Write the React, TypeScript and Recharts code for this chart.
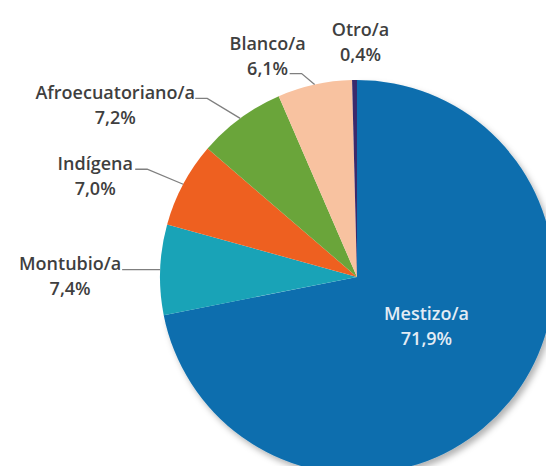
import React from 'react';
import { PieChart, Pie, Cell } from 'recharts';

// Autoidentificación étnica (%)
const categories = ['Mestizo/a', 'Montubio/a', 'Indígena', 'Afroecuatoriano/a', 'Blanco/a', 'Otro/a'];
const shares = [71.9, 7.4, 7.0, 7.2, 6.1, 0.4];
const colors = ['#0b6eae', '#19a3b7', '#ee6020', '#6aa53a', '#f8c2a0', '#3a2a6c'];

// label placement, relative to the point on the pie at the slice's mid angle
// r: fraction of the outer radius, dx/dy: text block offset, line: leader end offset
const labelLayout = [
  { r: 0.45, dx: 1, dy: -8, line: null, light: true },
  { r: 1, dx: -90, dy: 6, line: [-38, 0] },
  { r: 1, dx: -88, dy: -9, line: [-48, -15] },
  { r: 1, dx: -125, dy: -14, line: [-45, -20] },
  { r: 1, dx: -47, dy: -29, line: [-25, -11] },
  { r: 1, dx: 6, dy: -39, line: null },
];

const data = categories.map((name, i) => ({ name, value: shares[i] }));

const RADIAN = Math.PI / 180;

const renderLabel = (props: any) => {
  const { cx, cy, midAngle, outerRadius, index, value, name } = props;
  const lay = labelLayout[index];
  const r = outerRadius * lay.r;
  const ex = cx + r * Math.cos(-midAngle * RADIAN);
  const ey = cy + r * Math.sin(-midAngle * RADIAN);
  const tx = ex + lay.dx;
  const ty = ey + lay.dy;
  const pct = value.toFixed(1).replace('.', ',') + '%';
  const fill = lay.light ? '#e3ecf5' : '#3f3f3f';
  let leader = null;
  if (lay.line) {
    const px = ex + lay.line[0];
    const py = ey + lay.line[1];
    const pts = `${ex},${ey} ${Math.min(px + 12, ex)},${py} ${px},${py}`;
    leader = <polyline points={pts} fill="none" stroke="#7f7f7f" strokeWidth={1.3} />;
  }
  return (
    <g key={`lbl-${index}`}>
      {leader}
      <text x={tx} y={ty - 12.5} textAnchor="middle" dominantBaseline="central" fill={fill}
        fontSize={18} fontWeight={600} fontFamily="'Open Sans', sans-serif">
        {name}
      </text>
      <text x={tx} y={ty + 12.5} textAnchor="middle" dominantBaseline="central" fill={fill}
        fontSize={18} fontWeight={600} fontFamily="'Open Sans', sans-serif">
        {pct}
      </text>
    </g>
  );
};

export default function App() {
  return (
    <div style={{ position: 'absolute', left: 0, top: 0, width: 546, height: 466, background: '#fff' }}>
      <PieChart width={546} height={466}>
        <defs>
          <filter id="pieShadow" x="-10%" y="-10%" width="130%" height="130%">
            <feDropShadow dx="3" dy="4" stdDeviation="3" floodColor="#000" floodOpacity="0.3" />
          </filter>
        </defs>
        <Pie
          data={data}
          dataKey="value"
          nameKey="name"
          cx={352}
          cy={272}
          outerRadius={197}
          startAngle={90}
          endAngle={-270}
          stroke="none"
          label={renderLabel}
          labelLine={false}
          isAnimationActive={false}
        >
          {data.map((d, i) => (
            <Cell key={d.name} fill={colors[i]} filter={i === 0 ? 'url(#pieShadow)' : undefined} />
          ))}
        </Pie>
      </PieChart>
    </div>
  );
}
